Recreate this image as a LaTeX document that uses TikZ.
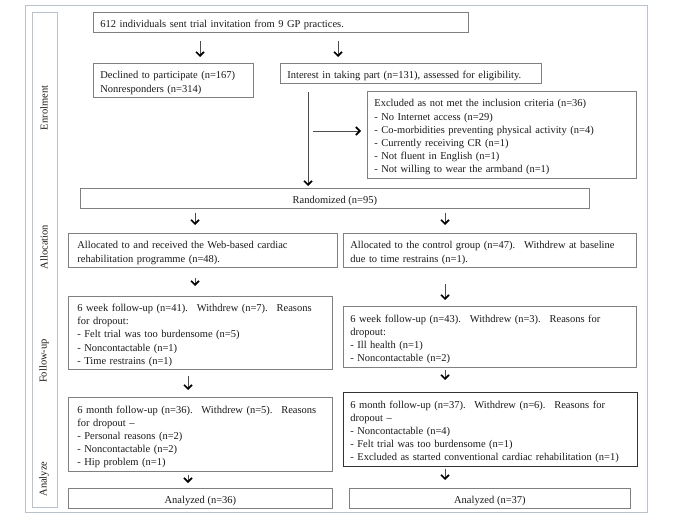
\documentclass[tikz,border=0pt]{standalone}
\usepackage{fontspec}
\setmainfont{Liberation Serif}
\usetikzlibrary{arrows.meta}
\definecolor{framecol}{HTML}{B8C3CE}
\definecolor{boxgray}{HTML}{808080}
\definecolor{txt}{HTML}{1A1A1A}
\newcommand{\fs}{\fontsize{10.5bp}{13.2bp}\selectfont}
\tikzset{
  frm/.style={draw=boxgray, line width=0.8bp, anchor=north west, inner sep=0pt},
  tx/.style={inner xsep=0bp, inner ysep=0bp, align=left, font=\fs, text=txt, yshift=-2.5bp},
  arr/.style={draw=black!70, line width=0.6bp, -{Straight Barb[length=4bp,width=8bp,line width=1.6bp,black]}},
  lab/.style={rotate=90, font=\fs, text=txt}
}
\begin{document}
\begin{tikzpicture}[x=1bp,y=-1bp]
\useasboundingbox (0,0) rectangle (673,519);
\fill[white] (0,0) rectangle (673,519);
\draw[framecol, line width=0.8bp] (25,5) rectangle (647,512);
\draw[framecol, line width=0.8bp] (32,12) rectangle (57,507);
\node[lab] (l1) at (44,108) {Enrolment};
\node[lab] (l2) at (44,247) {Allocation};
\node[lab] (l3) at (44,361) {Follow-up};
\node[lab] (l4) at (44,479) {Analyze};

\node[frm, minimum width=375bp, minimum height=20bp] (top) at (93,12) {};
\node[tx, text width=361bp] (topt) at (top.center) {612 individuals sent trial invitation from 9 GP practices.};
\node[frm, minimum width=160bp, minimum height=34bp] (decl) at (93,63) {};
\node[tx, text width=146bp] (declt) at (decl.center) {Declined to participate (n=167)\\Nonresponders (n=314)};
\node[frm, minimum width=261bp, minimum height=20bp] (int) at (280,63) {};
\node[tx, text width=247bp] (intt) at (int.center) {Interest in taking part (n=131), assessed for eligibility.};
\node[frm, minimum width=269bp, minimum height=87bp] (excl) at (367,91) {};
\node[tx, text width=255bp] (exclt) at (excl.center) {Excluded as not met the inclusion criteria (n=36)\\- No Internet access (n=29)\\- Co-morbidities preventing physical activity (n=4)\\- Currently receiving CR (n=1)\\- Not fluent in English (n=1)\\- Not willing to wear the armband (n=1)};
\node[frm, minimum width=509bp, minimum height=20bp] (rand) at (80,188) {};
\node[tx, align=center] (randt) at (rand.center) {Randomized (n=95)};
\node[frm, minimum width=269bp, minimum height=34bp] (alL) at (68,233) {};
\node[tx, text width=253bp] (alLt) at ([xshift=1bp]alL.center) {Allocated to and received the Web-based cardiac\\rehabilitation programme (n=48).};
\node[frm, minimum width=293bp, minimum height=34bp] (alR) at (343,233) {};
\node[tx, text width=279bp] (alRt) at (alR.center) {Allocated to the control group (n=47).~ Withdrew at baseline\\due to time restrains (n=1).};
\node[frm, minimum width=264bp, minimum height=73bp] (wkL) at (68,296) {};
\node[tx, text width=248bp] (wkLt) at ([xshift=1bp]wkL.center) {6 week follow-up (n=41).~ Withdrew (n=7).~ Reasons\\for dropout:\\- Felt trial was too burdensome (n=5)\\- Noncontactable (n=1)\\- Time restrains (n=1)};
\node[frm, minimum width=293bp, minimum height=61bp] (wkR) at (343,306) {};
\node[tx, text width=279bp] (wkRt) at (wkR.center) {6 week follow-up (n=43).~ Withdrew (n=3).~ Reasons for\\dropout:\\- Ill health (n=1)\\- Noncontactable (n=2)};
\node[frm, minimum width=264bp, minimum height=74bp] (moL) at (68,397) {};
\node[tx, text width=248bp] (moLt) at ([xshift=1bp]moL.center) {6 month follow-up (n=36).~ Withdrew (n=5).~ Reasons\\for dropout –\\- Personal reasons (n=2)\\- Noncontactable (n=2)\\- Hip problem (n=1)};
\node[frm, draw=black!80, minimum width=294bp, minimum height=74bp] (moR) at (343,392) {};
\node[tx, text width=280bp] (moRt) at (moR.center) {6 month follow-up (n=37).~ Withdrew (n=6).~ Reasons for\\dropout –\\- Noncontactable (n=4)\\- Felt trial was too burdensome (n=1)\\- Excluded as started conventional cardiac rehabilitation (n=1)};
\node[frm, minimum width=264bp, minimum height=20bp] (anL) at (68,488) {};
\node[tx, align=center] (anLt) at (anL.center) {Analyzed (n=36)};
\node[frm, minimum width=281bp, minimum height=20bp] (anR) at (349,488) {};
\node[tx, align=center] (anRt) at (anR.center) {Analyzed (n=37)};

\draw[arr, shorten <=8bp, shorten >=6bp] (top.south -| 200,0) -- (decl.north -| 200,0);
\draw[arr, shorten <=8bp, shorten >=6bp] (top.south -| 338,0) -- (int.north -| 338,0);
\draw[arr, shorten <=8bp, shorten >=2bp] (int.south -| 308,0) -- (rand.north -| 308,0);
\coordinate (hs) at (313,131);
\draw[arr, shorten >=6bp] (hs) -- (excl.west |- hs);
\draw[arr, shorten <=4bp, shorten >=8bp] (rand.south -| 195,0) -- (alL.north -| 195,0);
\draw[arr, shorten <=4bp, shorten >=8bp] (rand.south -| 445,0) -- (alR.north -| 445,0);
\draw[arr, shorten <=10bp, shorten >=10bp] (alL.south -| 195,0) -- (wkL.north -| 195,0);
\draw[arr, shorten <=16bp, shorten >=6bp] (alR.south -| 445,0) -- (wkR.north -| 445,0);
\draw[arr, shorten <=6bp, shorten >=7bp] (wkL.south -| 188,0) -- (moL.north -| 188,0);
\draw[arr, shorten <=2bp, shorten >=12bp] (wkR.south -| 445,0) -- (moR.north -| 445,0);
\draw[arr, shorten <=3bp, shorten >=5bp] (moL.south -| 188,0) -- (anL.north -| 188,0);
\draw[arr, shorten <=2bp, shorten >=8bp] (moR.south -| 445,0) -- (anR.north -| 445,0);
\end{tikzpicture}
\end{document}
